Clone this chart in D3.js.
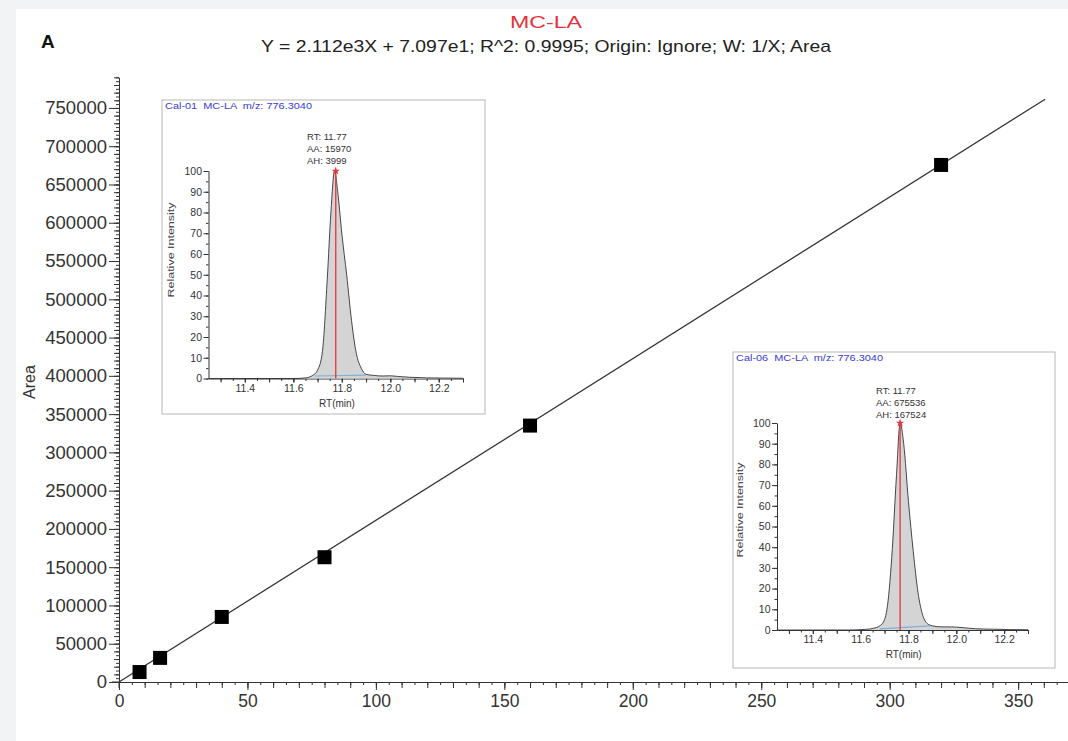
<!DOCTYPE html>
<html>
<head>
<meta charset="utf-8">
<script src="https://cdn.jsdelivr.net/npm/d3@7"></script>
<style>
  body { margin: 0; background: #f2f3f4; }
  svg { display: block; font-family: "Liberation Sans", Arial, sans-serif; }
  .pre { white-space: pre; }
</style>
</head>
<body>
<svg id="chart" width="1068" height="741"></svg>
<script>
// calibration points (concentration vs peak area)
const calConc = [8, 16, 40, 80, 160, 320];
const calArea = [13000, 31500, 85000, 163000, 335000, 675536];
// fitted line: Y = 2.112e3 X + 7.097e1
const fitSlope = 2112;
const fitIntercept = 70.97;
const fitRange = [0, 360.5];

const xTickLabels = [0, 50, 100, 150, 200, 250, 300, 350];
const yTickLabels = d3.range(0, 750001, 50000);

// chromatogram of Cal-01 (RT in min, relative intensity in %)
const cal01RT  = [11.25, 11.50, 11.60, 11.65, 11.68, 11.70, 11.72, 11.74, 11.755, 11.77, 11.785, 11.80, 11.82, 11.84, 11.86, 11.88, 11.90, 11.93, 11.97, 12.00, 12.03, 12.08, 12.15, 12.22, 12.30];
const cal01Int = [0, 0, 0, 0.3, 1.5, 4, 13, 48, 80, 100, 88, 70, 50, 28, 12, 5, 2, 1.5, 1.2, 1.3, 1.0, 0.6, 0.3, 0.2, 0.1];
const cal01Notes = ["RT: 11.77", "AA: 15970", "AH: 3999"];

// chromatogram of Cal-06
const cal06RT  = [11.25, 11.55, 11.62, 11.66, 11.69, 11.71, 11.73, 11.75, 11.765, 11.78, 11.80, 11.82, 11.84, 11.86, 11.88, 11.90, 11.94, 11.98, 12.02, 12.08, 12.15, 12.22, 12.30];
const cal06Int = [0, 0, 0.3, 1, 3, 10, 35, 75, 100, 90, 62, 38, 18, 7, 3, 2, 1.5, 1.5, 1.2, 0.6, 0.4, 0.2, 0.1];
const cal06Notes = ["RT: 11.77", "AA: 675536", "AH: 167524"];

const rtTickLabels = [11.4, 11.6, 11.8, 12.0, 12.2];

const svg = d3.select("#chart");

svg.append("rect").attr("x", 0).attr("y", 0).attr("width", 1068).attr("height", 741).attr("fill", "#f2f3f4");
svg.append("rect").attr("x", 16).attr("y", 9).attr("width", 1052).attr("height", 732).attr("fill", "#fff");

// titles
svg.append("text").attr("x", 546).attr("y", 28).attr("text-anchor", "middle")
    .attr("font-size", 17).attr("fill", "#e5323c")
    .attr("textLength", 72).attr("lengthAdjust", "spacingAndGlyphs").text("MC-LA");
svg.append("text").attr("x", 546).attr("y", 52).attr("text-anchor", "middle")
    .attr("font-size", 17).attr("fill", "#222")
    .attr("textLength", 570).attr("lengthAdjust", "spacingAndGlyphs")
    .text("Y = 2.112e3X + 7.097e1; R^2: 0.9995; Origin: Ignore; W: 1/X; Area");
svg.append("text").attr("x", 41).attr("y", 48).attr("font-size", 19).attr("font-weight", "bold")
    .attr("fill", "#111").text("A");

// main scales
const x = d3.scaleLinear().domain([0, 370]).range([119, 119 + 370 * 2.569]);
const y = d3.scaleLinear().domain([0, 790000]).range([682, 682 - 790000 * 38.27 / 50000]);

function styleAxis(g) {
    g.selectAll("line").attr("stroke", "#333");
    g.selectAll("path").attr("stroke", "#333");
    g.selectAll("text").attr("fill", "#333");
}

// y axis
const yg = svg.append("g").attr("transform", "translate(119,0)");
yg.append("g").call(d3.axisLeft(y).tickValues(d3.range(0, 790001, 5000)).tickSize(3).tickSizeOuter(0).tickFormat(""))
    .call(styleAxis);
yg.append("g").call(d3.axisLeft(y).tickValues(d3.range(0, 790001, 10000)).tickSize(5).tickSizeOuter(0).tickFormat(""))
    .call(g => g.select(".domain").remove()).call(styleAxis);
yg.append("g").call(d3.axisLeft(y).tickValues(yTickLabels).tickSize(10).tickPadding(2).tickFormat(d => d))
    .call(g => g.select(".domain").remove())
    .call(g => g.selectAll("text").attr("font-size", 18.5).attr("font-family", "Liberation Sans, Arial"))
    .call(styleAxis);
yg.append("line").attr("x1", 0).attr("x2", 0).attr("y1", 682).attr("y2", 688).attr("stroke", "#333");

svg.append("text").attr("transform", "translate(35,382) rotate(-90)").attr("text-anchor", "middle")
    .attr("font-size", 16).attr("fill", "#333").text("Area");

// x axis
const xg = svg.append("g").attr("transform", "translate(0,682)");
xg.append("g").call(d3.axisBottom(x).tickValues(d3.range(0, 371, 5)).tickSize(3).tickSizeOuter(0).tickFormat(""))
    .call(styleAxis);
xg.append("g").call(d3.axisBottom(x).tickValues(d3.range(0, 371, 10)).tickSize(6).tickSizeOuter(0).tickFormat(""))
    .call(g => g.select(".domain").remove()).call(styleAxis);
xg.append("g").call(d3.axisBottom(x).tickValues(xTickLabels).tickSize(8).tickPadding(5).tickFormat(d => d))
    .call(g => g.select(".domain").remove())
    .call(g => g.selectAll("text").attr("font-size", 17.5).attr("font-family", "Liberation Sans, Arial"))
    .call(styleAxis);
xg.append("line").attr("x1", 112).attr("x2", 119).attr("y1", 0).attr("y2", 0).attr("stroke", "#333");

// fit line
const fitLine = d3.line().x(d => x(d)).y(d => y(fitSlope * d + fitIntercept));
svg.append("path").datum(fitRange).attr("d", fitLine)
    .attr("fill", "none").attr("stroke", "#333").attr("stroke-width", 1.3);

// calibration points
const pts = calConc.map((c, i) => ({ c: c, a: calArea[i] }));
svg.selectAll(".cal").data(pts).join("rect").attr("class", "cal")
    .attr("x", d => x(d.c) - 7).attr("y", d => y(d.a) - 7)
    .attr("width", 14).attr("height", 14).attr("fill", "#000");

// inset chromatograms
function drawInset(cfg) {
    const g = svg.append("g");
    g.append("rect").attr("x", cfg.box[0]).attr("y", cfg.box[1]).attr("width", cfg.box[2]).attr("height", cfg.box[3])
        .attr("fill", "#fff").attr("stroke", "#b8b8b8").attr("stroke-width", 1);
    g.append("text").attr("class", "pre").attr("x", cfg.box[0] + 3).attr("y", cfg.box[1] + 9).attr("font-size", 9)
        .attr("textLength", 147).attr("lengthAdjust", "spacingAndGlyphs")
        .attr("fill", "#3a3ad8").text(cfg.header);

    const ix = d3.scaleLinear().domain([11.25, 12.30]).range(cfg.xr);
    const iy = d3.scaleLinear().domain([0, 100]).range(cfg.yr);

    // y axis
    const ya = g.append("g").attr("transform", `translate(${cfg.xr[0]},0)`);
    ya.append("g").call(d3.axisLeft(iy).tickValues(d3.range(0, 101, 5)).tickSize(2.5).tickSizeOuter(0).tickFormat(""))
        .call(styleAxis);
    ya.append("g").call(d3.axisLeft(iy).tickValues(d3.range(0, 101, 10)).tickSize(5).tickPadding(1.5).tickFormat(d => d))
        .call(s => s.select(".domain").remove())
        .call(s => s.selectAll("text").attr("font-size", 10.5).attr("font-family", "Liberation Sans, Arial"))
        .call(styleAxis);

    // x axis
    const xa = g.append("g").attr("transform", `translate(0,${cfg.yr[0]})`);
    xa.append("g").call(d3.axisBottom(ix).tickValues(d3.range(11.30, 12.301, 0.05)).tickSize(2.5).tickSizeOuter(0).tickFormat(""))
        .call(styleAxis);
    xa.append("g").call(d3.axisBottom(ix).tickValues(d3.range(11.30, 12.301, 0.1)).tickSize(4).tickSizeOuter(0).tickFormat(""))
        .call(s => s.select(".domain").remove()).call(styleAxis);
    xa.append("g").call(d3.axisBottom(ix).tickValues(rtTickLabels).tickSize(4).tickPadding(2).tickFormat(d3.format(".1f")))
        .call(s => s.select(".domain").remove())
        .call(s => s.selectAll("text").attr("font-size", 10.5).attr("font-family", "Liberation Sans, Arial"))
        .call(styleAxis);

    g.append("text").attr("x", ix(11.78)).attr("y", cfg.yr[0] + 28).attr("text-anchor", "middle")
        .attr("font-size", 10).attr("fill", "#333").text("RT(min)");
    g.append("text").attr("transform", `translate(${cfg.labelX},${cfg.labelY}) rotate(-90)`)
        .attr("text-anchor", "middle").attr("font-size", 9)
        .attr("textLength", 95).attr("lengthAdjust", "spacingAndGlyphs")
        .attr("fill", "#444").text("Relative Intensity");

    // peak
    const pd = cfg.rt.map((r, i) => ({ r: r, v: cfg.inten[i] }));
    g.append("path").datum(pd)
        .attr("d", d3.area().x(d => ix(d.r)).y0(iy(0)).y1(d => iy(d.v)).curve(d3.curveMonotoneX))
        .attr("fill", "#d4d4d4").attr("stroke", "none");
    g.append("path").datum(pd)
        .attr("d", d3.line().x(d => ix(d.r)).y(d => iy(d.v)).curve(d3.curveMonotoneX))
        .attr("fill", "none").attr("stroke", "#333").attr("stroke-width", 0.9);
    // integration baseline
    g.append("line").attr("x1", ix(cfg.base[0])).attr("x2", ix(cfg.base[1]))
        .attr("y1", iy(cfg.base[2])).attr("y2", iy(cfg.base[3]))
        .attr("stroke", "#7fb0d8").attr("stroke-width", 1.2);
    // apex marker
    g.append("line").attr("x1", ix(cfg.apex)).attr("x2", ix(cfg.apex)).attr("y1", iy(0)).attr("y2", iy(100))
        .attr("stroke", "#e0363c").attr("stroke-width", 1.3);
    g.append("path").attr("d", d3.symbol(d3.symbolStar, 22)())
        .attr("transform", `translate(${ix(cfg.apex)},${iy(100)})`).attr("fill", "#e0363c");

    g.selectAll(".note").data(cfg.notes).join("text")
        .attr("x", cfg.noteX).attr("y", (d, i) => cfg.noteY + i * 12)
        .attr("font-size", 9.5).attr("fill", "#333").text(d => d);
}

drawInset({
    box: [162, 100, 323, 314], xr: [208.5, 463], yr: [378.5, 171],
    header: "Cal-01  MC-LA  m/z: 776.3040",
    rt: cal01RT, inten: cal01Int, apex: 11.775, base: [11.69, 11.90, 1.2, 1.6],
    notes: cal01Notes, noteX: 307, noteY: 140, labelX: 174, labelY: 250
});
drawInset({
    box: [733, 352, 322, 316], xr: [777, 1028], yr: [630, 423],
    header: "Cal-06  MC-LA  m/z: 776.3040",
    rt: cal06RT, inten: cal06Int, apex: 11.765, base: [11.68, 11.89, 0.5, 2],
    notes: cal06Notes, noteX: 876, noteY: 394, labelX: 743, labelY: 510
});
</script>
</body>
</html>
